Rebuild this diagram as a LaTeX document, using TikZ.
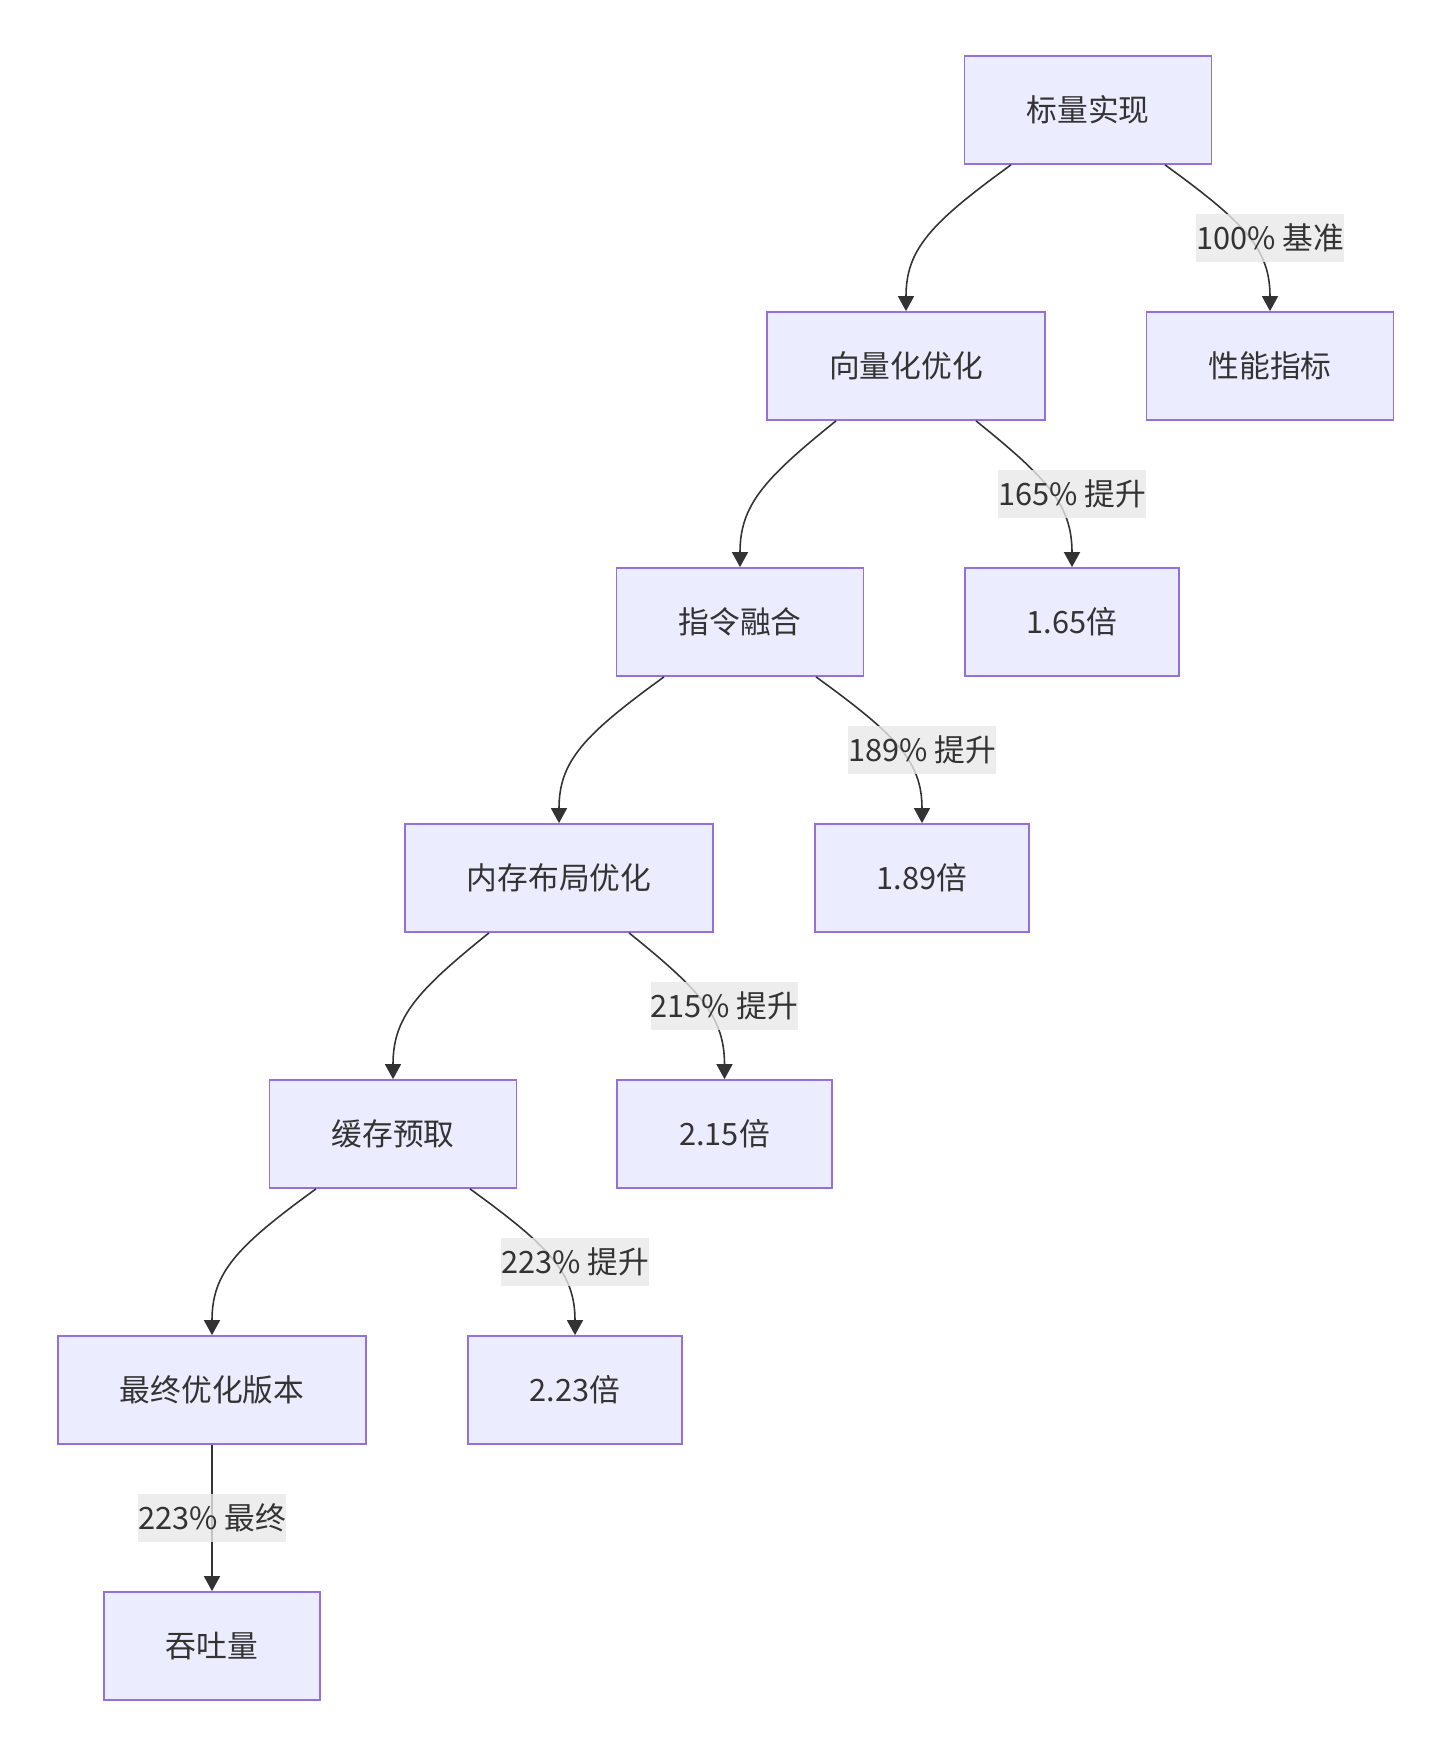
\documentclass[tikz,border=0pt]{standalone}
\usepackage{fontspec}
\newfontfamily\cjk{Noto Sans CJK SC}
\usetikzlibrary{arrows.meta, calc, positioning}
\definecolor{boxfill}{HTML}{ECECFF}
\definecolor{boxline}{HTML}{9370DB}
\definecolor{ink}{HTML}{333333}
\definecolor{lblfill}{HTML}{E8E8E8}

\begin{document}
\begin{tikzpicture}[x=0.02cm, y=-0.02cm,
    box/.style={draw=boxline, fill=boxfill, line width=1pt, text=ink,
        font=\cjk\fontsize{17.5}{21}\selectfont, minimum height=2.16cm,
        inner xsep=1.24cm, inner ysep=0pt},
    lbl/.style={fill=lblfill, fill opacity=0.8, text opacity=1, text=ink,
        font=\cjk\fontsize{17.5}{21}\selectfont, minimum height=0.96cm,
        inner xsep=0pt, inner ysep=0pt},
    edge/.style={draw=ink, line width=0.9pt, -{Triangle[width=0.32cm, length=0.3cm]}}]
    \useasboundingbox (0,0) rectangle (1450,1756);
    \node[box] (v0) at (1088,110) {标量实现};
    \node[box] (v1) at (906,366) {向量化优化};
    \node[box] (m0) at (1270,366) {性能指标};
    \node[box] (v2) at (740,622) {指令融合};
    \node[box] (m1) at (1072,622) {1.65倍};
    \node[box] (v3) at (559,878) {内存布局优化};
    \node[box] (m2) at (922,878) {1.89倍};
    \node[box] (v4) at (393,1134) {缓存预取};
    \node[box] (m3) at (724.5,1134) {2.15倍};
    \node[box] (v5) at (212,1390) {最终优化版本};
    \node[box] (m4) at (575,1390) {2.23倍};
    \node[box] (t) at (212,1646) {吞吐量};

    \draw[edge] ($(v0.south)+(-77,0)$) .. controls +(-80,58) and +(0,-62) .. (v1.north);
    \draw[edge] ($(v0.south)+(77,0)$) .. controls +(80,58) and +(0,-62) .. (m0.north);
    \draw[edge] ($(v1.south)+(-70,0)$) .. controls +(-72,58) and +(0,-62) .. (v2.north);
    \draw[edge] ($(v1.south)+(70,0)$) .. controls +(72,58) and +(0,-62) .. (m1.north);
    \draw[edge] ($(v2.south)+(-76,0)$) .. controls +(-80,58) and +(0,-62) .. (v3.north);
    \draw[edge] ($(v2.south)+(76,0)$) .. controls +(80,58) and +(0,-62) .. (m2.north);
    \draw[edge] ($(v3.south)+(-70,0)$) .. controls +(-72,58) and +(0,-62) .. (v4.north);
    \draw[edge] ($(v3.south)+(70,0)$) .. controls +(72,58) and +(0,-62) .. (m3.north);
    \draw[edge] ($(v4.south)+(-77,0)$) .. controls +(-80,58) and +(0,-62) .. (v5.north);
    \draw[edge] ($(v4.south)+(77,0)$) .. controls +(80,58) and +(0,-62) .. (m4.north);
    \draw[edge] (v5) -- (t);

    \node[lbl] (l0) at (1270,238) {100\% 基准};
    \node[lbl] (l1) at (1072,494) {165\% 提升};
    \node[lbl] (l2) at (922,750) {189\% 提升};
    \node[lbl] (l3) at (724.5,1006) {215\% 提升};
    \node[lbl] (l4) at (575,1262) {223\% 提升};
    \node[lbl] (l5) at (212,1518) {223\% 最终};
\end{tikzpicture}
\end{document}
